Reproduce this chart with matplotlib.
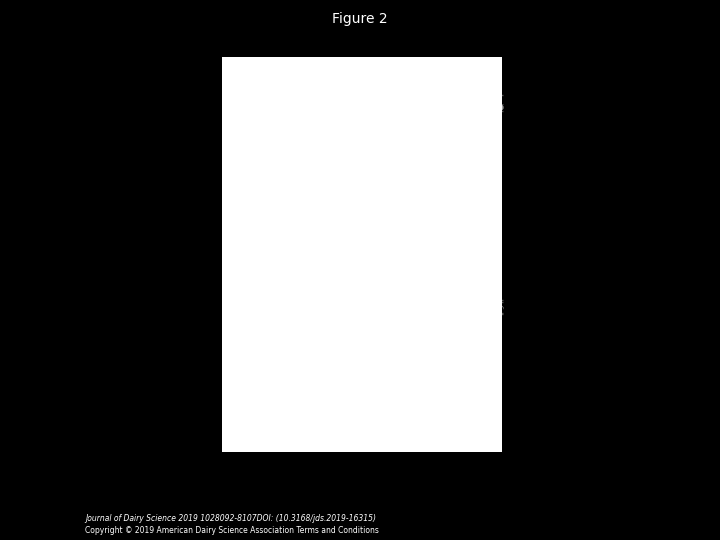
import matplotlib
matplotlib.use("Agg")
import matplotlib.pyplot as plt
from matplotlib.patches import Rectangle

weeks = [1, 2, 3, 4, 5, 6]
milk_scfp = [27.5, 37.5, 40.5, 43.5, 45.2, 45.5]
milk_ctrl = [27.5, 38.5, 42.3, 44.3, 46.8, 48.2]
milk_err = [1.5, 1.5, 1.5, 1.5, 1.5, 1.5]
fat_scfp = [1.30, 1.77, 1.91, 1.93, 1.94, 1.75]
fat_ctrl = [1.24, 1.65, 1.86, 1.61, 1.65, 1.78]
fat_err = [0.08, 0.09, 0.09, 0.09, 0.10, 0.10]

serif = {"family": "Liberation Serif", "weight": "bold"}
grey = "#a0a0a0"

fig = plt.figure(figsize=(7.2, 5.4), dpi=100, facecolor="black")
fig.patches.append(Rectangle((0.308, 0.163), 0.389, 0.731, transform=fig.transFigure,
                             facecolor="white", edgecolor="none", zorder=0))
fig.text(0.5, 0.965, "Figure 2", color="white", ha="center", va="center", fontsize=10)
fig.text(0.118, 0.04, "Journal of Dairy Science 2019 1028092-8107DOI: (10.3168/jds.2019-16315)",
         color="white", fontsize=5.5, style="italic", va="center")
fig.text(0.118, 0.017, "Copyright © 2019 American Dairy Science Association Terms and Conditions",
         color="white", fontsize=5.5, va="center")

def panel(rect, s, c, err, ylim, yticks, fmt, ylabel, letter):
    ax = fig.add_axes(rect)
    ax.patch.set_alpha(0)
    ax.errorbar(weeks, s, yerr=err, color=grey, lw=2, marker="o", ms=3.5, capsize=2,
                elinewidth=0.8, ecolor="#555555", label="SCFP", clip_on=False)
    ax.errorbar(weeks, c, yerr=err, color="black", lw=1.6, ls="--", marker="^", ms=4,
                capsize=2, elinewidth=0.8, ecolor="#555555", label="Control", clip_on=False)
    ax.set_xlim(0, 6)
    ax.set_ylim(*ylim)
    ax.set_xticks(range(7))
    ax.set_yticks(yticks)
    ax.set_yticklabels([fmt.format(v) for v in yticks])
    for lab in ax.get_xticklabels() + ax.get_yticklabels():
        lab.set_fontfamily("Liberation Serif")
        lab.set_fontweight("bold")
        lab.set_fontsize(8)
    ax.tick_params(length=3, width=0.6, pad=3)
    ax.spines["top"].set_visible(False)
    ax.spines["right"].set_visible(False)
    ax.set_ylabel(ylabel, fontdict=serif, fontsize=8.5, labelpad=4)
    ax.text(-0.16, 1.02, letter, transform=ax.transAxes, fontdict=serif, fontsize=7.5)
    return ax

axA = panel([0.371, 0.569, 0.324, 0.307], milk_scfp, milk_ctrl, milk_err, (0, 60),
            [0, 10, 20, 30, 40, 50, 60], "{:.0f}", "Milk yield, kg/d", "A")
leg = axA.legend(loc="upper left", frameon=False, handlelength=2.5,
                 prop={"family": "Liberation Serif", "size": 8}, borderaxespad=0.2)
axB = panel([0.371, 0.233, 0.324, 0.280], fat_scfp, fat_ctrl, fat_err, (0, 2.5),
            [0.0, 0.5, 1.0, 1.5, 2.0, 2.5], "{:.1f}", "Milk fat yield, kg/d", "B")
axB.set_xlabel("Week in lactation", fontdict=serif, fontsize=8.5, labelpad=6)
axB.text(4, 2.32, "*", ha="center", fontsize=7, family="Liberation Serif")
axB.text(5, 2.32, "†", ha="center", fontsize=7, family="Liberation Serif")

fig.savefig("out.png", dpi=100, facecolor="black")
